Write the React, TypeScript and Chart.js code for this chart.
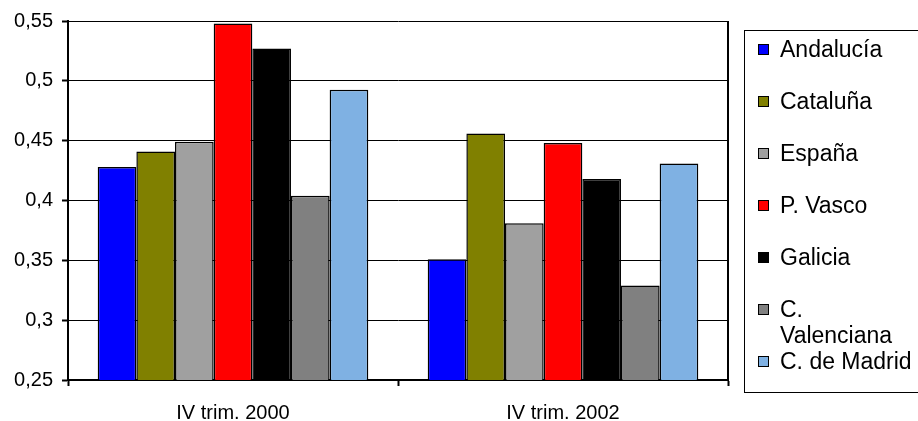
import React, { useEffect, useRef } from "react";
import { Chart, registerables } from "chart.js";

Chart.register(...registerables);

const categories = ["IV trim. 2000", "IV trim. 2002"];
const seriesNames = ["Andalucía", "Cataluña", "España", "P. Vasco", "Galicia", "C. Valenciana", "C. de Madrid"];
const andalucia = [0.428, 0.351];
const cataluna = [0.441, 0.456];
const espana = [0.449, 0.381];
const pVasco = [0.548, 0.448];
const galicia = [0.527, 0.418];
const cValenciana = [0.404, 0.329];
const cMadrid = [0.4925, 0.431];
const seriesValues = [andalucia, cataluna, espana, pVasco, galicia, cValenciana, cMadrid];
const seriesColors = ["#0000FF", "#808000", "#A0A0A0", "#FF0000", "#000000", "#808080", "#7FB1E3"];
const yTickValues = [0.25, 0.3, 0.35, 0.4, 0.45, 0.5, 0.55];
const yTickLabels = ["0,25", "0,3", "0,35", "0,4", "0,45", "0,5", "0,55"];

const FONT = "Arial, 'Liberation Sans', sans-serif";

const rightBorder = {
  id: "rightBorder",
  afterDatasetsDraw(chart: any) {
    const { ctx, chartArea } = chart;
    ctx.save();
    ctx.strokeStyle = "#000";
    ctx.lineWidth = 2;
    ctx.beginPath();
    ctx.moveTo(chartArea.right, chartArea.top);
    ctx.lineTo(chartArea.right, chartArea.bottom);
    ctx.stroke();
    ctx.restore();
  },
};

export default function App() {
  const canvasRef = useRef<HTMLCanvasElement | null>(null);

  useEffect(() => {
    if (!canvasRef.current) return;
    const chart = new Chart(canvasRef.current, {
      type: "bar",
      data: {
        labels: categories,
        datasets: seriesNames.map((name, i) => ({
          label: name,
          data: seriesValues[i],
          backgroundColor: seriesColors[i],
          borderColor: "#000",
          borderWidth: 1.5,
          categoryPercentage: 0.82,
          barPercentage: 1,
        })),
      },
      options: {
        animation: false,
        responsive: false,
        maintainAspectRatio: false,
        layout: { padding: { top: 20, right: 190, left: 0, bottom: 0 } },
        plugins: { legend: { display: false }, tooltip: { enabled: false } },
        scales: {
          x: {
            grid: {
              display: true,
              drawOnChartArea: false,
              drawTicks: true,
              tickLength: 6,
              tickColor: "#000",
              tickWidth: 2,
              offset: true,
            },
            border: { display: true, color: "#000", width: 2 },
            ticks: {
              color: "#000",
              font: { family: FONT, size: 20 },
              padding: 15,
              maxRotation: 0,
            },
            afterFit: (s: any) => {
              s.height = 41;
            },
          },
          y: {
            min: 0.25,
            max: 0.55,
            afterBuildTicks: (s: any) => {
              s.ticks = yTickValues.map((v) => ({ value: v }));
            },
            grid: {
              color: "#000",
              lineWidth: 1,
              borderDash: [2, 1],
              drawTicks: true,
              tickLength: 6,
              tickColor: "#000",
              tickWidth: 2,
              tickBorderDash: [],
            },
            border: { display: true, color: "#000", width: 2 },
            ticks: {
              color: "#000",
              font: { family: FONT, size: 20 },
              padding: 9,
              callback: (v: any) => {
                const idx = yTickValues.findIndex((t) => Math.abs(t - Number(v)) < 1e-6);
                return idx >= 0 ? yTickLabels[idx] : "";
              },
            },
            afterFit: (s: any) => {
              s.width = 68;
            },
          },
        },
      },
      plugins: [rightBorder],
    });
    return () => chart.destroy();
  }, []);

  return (
    <div
      style={{
        position: "fixed",
        left: 0,
        top: 0,
        width: 918,
        height: 421,
        overflow: "hidden",
        background: "#fff",
      }}
    >
      <canvas ref={canvasRef} width={918} height={421} style={{ position: "absolute", left: 0, top: 0, width: 918, height: 421 }} />
      <div
        style={{
          position: "absolute",
          left: 744,
          top: 30,
          width: 220,
          height: 361,
          border: "1.5px solid #000",
          fontFamily: FONT,
          fontSize: 23,
          lineHeight: "26px",
          color: "#000",
        }}
      >
        {seriesNames.map((name, i) => (
          <div key={name} style={{ position: "absolute", left: 0, top: 5 + i * 52, width: 200 }}>
            <div
              style={{
                position: "absolute",
                left: 13,
                top: 8,
                width: 9,
                height: 9,
                background: seriesColors[i],
                border: "1px solid #000",
              }}
            />
            <div style={{ position: "absolute", left: 35, top: 0, width: 138, whiteSpace: "normal" }}>{name}</div>
          </div>
        ))}
      </div>
    </div>
  );
}
